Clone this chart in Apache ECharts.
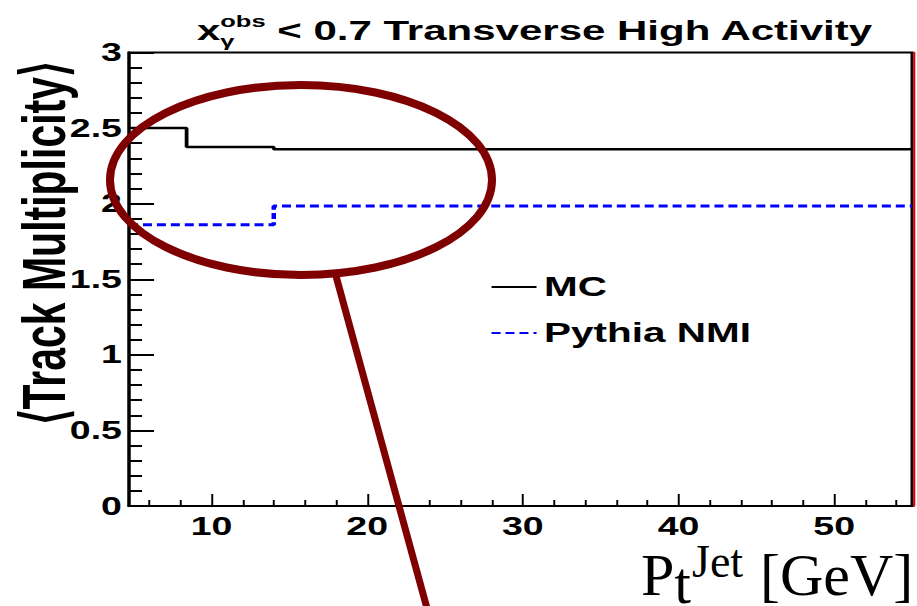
<!DOCTYPE html>
<html>
<head>
<meta charset="utf-8">
<script src="https://cdn.jsdelivr.net/npm/echarts@6/dist/echarts.min.js"></script>
<style>
  html, body { margin: 0; padding: 0; background: #fff; overflow: hidden; }
  #wrap { position: relative; width: 917px; height: 606px; overflow: hidden; background: #fff; }
  /* the histogram pad is drawn narrow and widened 1.5x, like the original canvas */
  #plot { position: absolute; left: 0; top: 0; width: 611.33px; height: 606px;
          transform: scaleX(1.5); transform-origin: 0 0; }
  #marks { position: absolute; left: 0; top: 0; width: 917px; height: 606px; pointer-events: none; }
</style>
</head>
<body>
<div id="wrap">
  <div id="plot"></div>
  <div id="marks"></div>
</div>
<script>
// ---- data ----
const xRange = [4.7, 55];
const yRange = [0, 3];
const mcEdges = [4.7, 8.4, 14, 55];
const mcValues = [2.5, 2.375, 2.36];
const nmiEdges = [4.7, 14, 55];
const nmiValues = [1.86, 1.985];
const xMajorTicks = [10, 20, 30, 40, 50];
const xMinorTicks = [6, 8, 12, 14, 16, 18, 22, 24, 26, 28, 32, 34, 36, 38, 42, 44, 46, 48, 52, 54];
const yTickLabels = ['0', '0.5', '1', '1.5', '2', '2.5', '3'];
const seriesNames = ['MC', 'Pythia NMI'];

// histogram bins -> step polyline points
function binsToSteps(edges, values) {
  const pts = values.map((v, i) => [edges[i], v]);
  pts.push([edges[edges.length - 1], values[values.length - 1]]);
  return pts;
}

const SANS = '"Liberation Sans", Arial, Helvetica, sans-serif';
const SERIF = '"Liberation Serif", "Times New Roman", serif';

const measureCtx = document.createElement('canvas').getContext('2d');
function textW(str, font) { measureCtx.font = font; return measureCtx.measureText(str).width; }

// ---- histogram pad ----
const plot = echarts.init(document.getElementById('plot'), null, { renderer: 'svg', width: 611.33, height: 606 });

// title: x_gamma^obs < 0.7 Transverse High Activity
const tX = 131.3, tMid = 31;
const bigFont = 'bold 28px ' + SANS, smallFont = 'bold 17px ' + SANS;
const wX = textW('x', bigFont), wObs = textW('obs', smallFont);
function txt(str, x, y, size, family) {
  return {
    type: 'text', silent: true,
    style: { text: str, x: x, y: y, fontSize: size, fontFamily: family, fontWeight: 'bold',
             fill: '#000', textAlign: 'left', textVerticalAlign: 'middle', align: 'left', verticalAlign: 'middle' }
  };
}

plot.setOption({
  animation: false,
  backgroundColor: 'transparent',
  grid: { left: 86, right: 3.33, top: 52.5, bottom: 100, show: true, borderColor: '#000', borderWidth: 2,
          backgroundColor: 'transparent', containLabel: false, outerBoundsMode: 'none' },
  legend: {
    orient: 'vertical', left: 326.7, top: 272, padding: 0, itemWidth: 30, itemHeight: 14, itemGap: 16,
    selectedMode: false, data: seriesNames,
    itemStyle: { opacity: 0 },
    textStyle: { fontFamily: SANS, fontWeight: 'bold', fontSize: 27, color: '#000', lineHeight: 30 }
  },
  xAxis: [
    { type: 'value', min: xRange[0], max: xRange[1], position: 'bottom',
      axisLine: { show: true, onZero: false, lineStyle: { color: '#000', width: 2 } },
      axisTick: { show: true, inside: true, length: 12, customValues: xMajorTicks, lineStyle: { color: '#000', width: 1.3 } },
      axisLabel: { customValues: xMajorTicks, fontFamily: SANS, fontWeight: 'bold', fontSize: 25, color: '#000', margin: 8 },
      splitLine: { show: false } },
    { type: 'value', min: xRange[0], max: xRange[1], position: 'bottom',
      axisLine: { show: false, onZero: false },
      axisTick: { show: true, inside: true, length: 6, customValues: xMinorTicks, lineStyle: { color: '#000', width: 1.3 } },
      axisLabel: { show: false }, splitLine: { show: false } }
  ],
  yAxis: [
    { type: 'value', min: yRange[0], max: yRange[1], interval: 0.5,
      axisLine: { show: true, lineStyle: { color: '#000', width: 2 } },
      axisTick: { show: true, inside: true, length: 16.7, lineStyle: { color: '#000', width: 2 } },
      minorTick: { show: true, splitNumber: 5, length: 8.7, lineStyle: { color: '#000', width: 2 } },
      axisLabel: { formatter: v => yTickLabels[Math.round(v / 0.5)], fontFamily: SANS, fontWeight: 'bold',
                   fontSize: 25, color: '#000', margin: 4.7 },
      splitLine: { show: false },
      name: '\u27E8Track Multiplicity\u27E9', nameLocation: 'middle', nameGap: 36, nameMoveOverlap: false,
      nameTextStyle: { fontFamily: SANS, fontWeight: 'bold', fontSize: 41, color: '#000', padding: [0, 0, 0, 72] } },
    { type: 'value', position: 'right', min: yRange[0], max: yRange[1], offset: 1,
      axisLine: { show: true, lineStyle: { color: '#e00000', width: 1.4 } },
      axisTick: { show: false }, axisLabel: { show: false }, splitLine: { show: false } }
  ],
  series: [
    { type: 'line', name: seriesNames[0], data: binsToSteps(mcEdges, mcValues), step: 'end', symbol: 'none',
      itemStyle: { color: '#000' }, lineStyle: { color: '#000', width: 2.5 }, z: 3 },
    { type: 'line', name: seriesNames[1], data: binsToSteps(nmiEdges, nmiValues), step: 'end', symbol: 'none',
      itemStyle: { color: '#0000ff' }, lineStyle: { color: '#0000ff', width: 3, type: [6, 3.3] }, z: 2 }
  ],
  graphic: [
    txt('x', tX, tMid, 28, SANS),
    txt('obs', tX + wX, tMid - 10, 17, SANS),
    txt('\u03B3', tX + wX, tMid + 10, 17, SANS),
    txt(' < 0.7 Transverse High Activity', tX + wX + wObs, tMid, 28, SANS)
  ]
});

// ---- annotation overlay and axis caption ----
const marks = echarts.init(document.getElementById('marks'), null, { renderer: 'svg', width: 917, height: 606 });
const capFont = '60px ' + SERIF;
const cX = 641, cBase = 575;
const wP = textW('P', capFont), wt = textW('t', capFont);
function serifTxt(str, x, y, size) {
  return { type: 'text', silent: true,
    style: { text: str, x: x, y: y, fontSize: size, fontFamily: SERIF, fill: '#000',
             textAlign: 'left', textVerticalAlign: 'middle', align: 'left', verticalAlign: 'middle' } };
}
marks.setOption({
  animation: false,
  backgroundColor: 'transparent',
  graphic: [
    serifTxt('P', cX, cBase, 60),
    serifTxt('t', cX + wP, cBase + 8, 60),
    serifTxt('Jet', cX + wP + wt + 1, cBase - 14, 46),
    serifTxt('[GeV]', 760, cBase, 60),
    { type: 'ellipse', silent: true, shape: { cx: 301, cy: 180, rx: 191, ry: 95 },
      style: { fill: 'none', stroke: '#7f0000', lineWidth: 8 } },
    { type: 'line', silent: true, shape: { x1: 336, y1: 276, x2: 428, y2: 612 },
      style: { stroke: '#7f0000', lineWidth: 7 } }
  ]
});
</script>
</body>
</html>
